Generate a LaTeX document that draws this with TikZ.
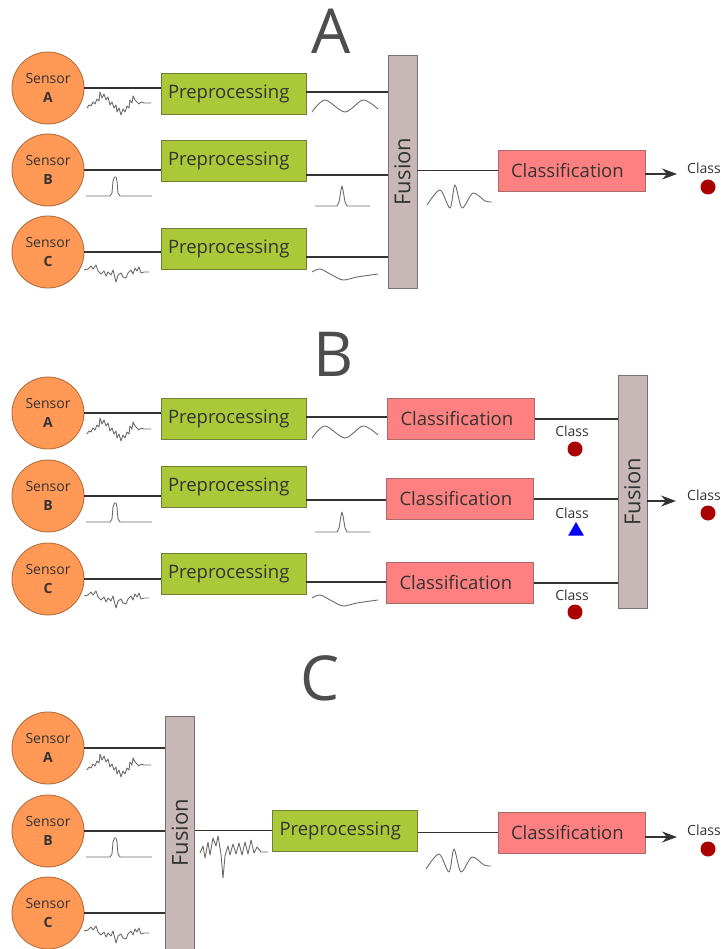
\documentclass[tikz,border=0pt]{standalone}
\usepackage{fontspec}
\setmainfont{Open Sans}
\usetikzlibrary{arrows.meta,positioning,calc,shapes.geometric}

\definecolor{sensorfill}{HTML}{FF9955}
\definecolor{sensorline}{HTML}{B3703F}
\definecolor{prepfill}{HTML}{AAC837}
\definecolor{prepline}{HTML}{6E7F3A}
\definecolor{clsfill}{HTML}{FF8080}
\definecolor{clsline}{HTML}{A86A6A}
\definecolor{fusfill}{HTML}{C8B7B7}
\definecolor{fusline}{HTML}{7D6F6F}
\definecolor{txt}{HTML}{333333}
\definecolor{titlecol}{HTML}{4D4D4D}
\definecolor{linecol}{HTML}{333333}
\definecolor{wavecol}{HTML}{6B6B6B}
\definecolor{dotred}{HTML}{AA0000}

\begin{document}
\begin{tikzpicture}[
    x=1pt, y=-1pt,
    sensor/.style={circle, draw=sensorline, fill=sensorfill, line width=0.9pt,
                minimum size=72pt, inner sep=0pt, align=center, text=txt,
                font=\fontsize{14}{19}\selectfont},
    prep/.style={rectangle, draw=prepline, fill=prepfill, line width=0.9pt,
                minimum height=41pt, text width=131pt, inner xsep=7pt,
                align=left, text=txt, font=\fontsize{18.5}{22}\selectfont},
    classif/.style={prep, draw=clsline, fill=clsfill, text width=121pt,
                inner xsep=13pt},
    fusion/.style={rectangle, draw=fusline, fill=fusfill, line width=0.9pt,
                minimum width=233pt, minimum height=29pt, inner sep=0pt,
                rotate=90, text=txt, font=\fontsize{22}{26}\selectfont},
    link/.style={draw=linecol, line width=1.1pt},
    arr/.style={link, -{Stealth[length=15pt, width=11pt, inset=5pt]}},
    wave/.style={draw=wavecol, line width=0.9pt, line join=round},
    title/.style={text=titlecol, inner sep=0pt, font=\fontsize{62}{62}\selectfont},
    cls/.style={text=txt, inner sep=0pt, font=\fontsize{14}{16}\selectfont},
    dot/.style={circle, fill=dotred, minimum size=15pt, inner sep=0pt},
    tri/.style={regular polygon, regular polygon sides=3, fill=blue,
                minimum size=18pt, inner sep=0pt},
    noisy/.pic={\draw[wave] plot coordinates {(0,5) (2,2) (4,3) (6,-1) (8,1)
        (10,-4) (12,-2) (13,-11) (15,-5) (17,-9) (19,-3) (21,-6) (23,2) (25,-1)
        (27,5) (29,2) (30,9) (32,5) (34,12) (36,6) (38,9) (40,3) (42,5) (43,-3)
        (45,0) (46,-7) (48,-3) (50,-1) (52,1) (54,-1) (57,0) (64,0)};},
    noisyc/.pic={\draw[wave] plot coordinates {(0,-2) (4,-3) (7,-6) (9,-3)
        (12,-7) (14,-1) (17,2) (20,-1) (22,4) (24,0) (27,3) (29,-2) (32,10)
        (34,3) (37,1) (39,5) (42,6) (44,1) (47,-2) (49,2) (51,-4) (53,-1)
        (55,-5) (57,1) (60,0) (65,0)};},
    spike/.pic={\draw[wave] plot coordinates {(0,0) (24,0) (26,-3) (27,-15)
        (28.5,-19) (30,-19) (31,-15) (32,-3) (34,0) (66,0)};},
    sharp/.pic={\draw[wave] plot coordinates {(0,0) (22,0) (24,-4) (26,-16)
        (27,-20) (28,-16) (30,-4) (32,0) (55,0)};},
    sine/.pic={\draw[wave] plot[smooth] coordinates {(0,6) (13,-6) (33,6)
        (51,-6) (66,3)};},
    sinec/.pic={\draw[wave] plot[smooth] coordinates {(0,0) (8,-3) (20,3)
        (31,8) (45,5) (66,2)};},
    wavelet/.pic={\draw[wave] plot[smooth] coordinates {(0,0) (13,-15) (23,3)
        (28,-20) (35,3) (46,-12) (58,-4) (65,-3)};},
    burst/.pic={\draw[wave] plot coordinates {(0,1) (3,-6) (5,6) (8,-10)
        (10,3) (13,-14) (16,-6) (18,-16) (21,2) (23,26) (25,4) (28,-6) (30,3)
        (33,-8) (36,2) (39,-9) (42,3) (45,-10) (48,2) (51,-12) (54,1) (57,-5)
        (61,0) (68,0)};},
]
\useasboundingbox (0,0) rectangle (722,949);

% --- A: fusion of preprocessed signals ---
\node[title] (tA) at (331,31) {A};
\node[sensor] (senA1) at (48,88) {Sensor\\\textbf{A}};
\node[sensor] (senB1) at (48,170) {Sensor\\\textbf{B}};
\node[sensor] (senC1) at (48,252) {Sensor\\\textbf{C}};
\node[prep] (preA1) at (233.5,93.5) {Preprocessing};
\node[prep] (preB1) at (233.5,160.5) {Preprocessing};
\node[prep] (preC1) at (233.5,248.5) {Preprocessing};
\node[fusion] (fus1) at (402.5,171.5) {Fusion};
\node[classif] (cls1) at (571.5,170.5) {Classification};
\coordinate (tip1) at (677,174);
\node[cls, anchor=west] (out1) at (687,168) {Class};
\node[dot] (dot1) at (708,187) {};
\draw[link] (senA1) -- (senA1 -| preA1.west);
\draw[link] (senB1) -- (senB1 -| preB1.west);
\draw[link] (senC1) -- (senC1 -| preC1.west);
\draw[link] ($(senA1 -| preA1.east)+(0,4)$) -- ($(senA1 -| fus1.north)+(0,4)$);
\draw[link] ($(senB1 -| preB1.east)+(0,5)$) -- ($(senB1 -| fus1.north)+(0,5)$);
\draw[link] ($(senC1 -| preC1.east)+(0,5)$) -- ($(senC1 -| fus1.north)+(0,5)$);
\draw[link] (fus1.south |- cls1) -- (cls1.west);
\draw[arr] (cls1.east |- tip1) -- (tip1);
\pic at (87,103) {noisy};
\pic at (86,196) {spike};
\pic at (84,272) {noisyc};
\pic at (312,106) {sine};
\pic at (315,206) {sharp};
\pic at (312,272) {sinec};
\pic at (427,205) {wavelet};

% --- B: fusion of class decisions ---
\node[title] (tB) at (334,354) {B};
\node[sensor] (senA2) at (48,413) {Sensor\\\textbf{A}};
\node[sensor] (senB2) at (48,496) {Sensor\\\textbf{B}};
\node[sensor] (senC2) at (48,579) {Sensor\\\textbf{C}};
\node[prep] (preA2) at (233.5,419) {Preprocessing};
\node[prep] (preB2) at (233.5,486.5) {Preprocessing};
\node[prep] (preC2) at (233.5,573.5) {Preprocessing};
\node[classif] (clsA2) at (461,419) {Classification};
\node[classif] (clsB2) at (460,499) {Classification};
\node[classif] (clsC2) at (460,583) {Classification};
\node[fusion] (fus2) at (632.5,492) {Fusion};
\coordinate (tip2) at (676,501);
\node[cls] (lblA2) at (572,431) {Class};
\node[dot] (mkA2) at (575,449) {};
\node[cls] (lblB2) at (572,513) {Class};
\node[tri] (mkB2) at (576,531) {};
\node[cls] (lblC2) at (572,595) {Class};
\node[dot] (mkC2) at (575,612) {};
\node[cls, anchor=west] (out2) at (687,495) {Class};
\node[dot] (dot2) at (708,513) {};
\draw[link] (senA2) -- (senA2 -| preA2.west);
\draw[link] (senB2) -- (senB2 -| preB2.west);
\draw[link] (senC2) -- (senC2 -| preC2.west);
\draw[link] ($(senA2 -| preA2.east)+(0,4)$) -- ($(senA2 -| clsA2.west)+(0,4)$);
\draw[link] ($(senB2 -| preB2.east)+(0,4)$) -- ($(senB2 -| clsB2.west)+(0,4)$);
\draw[link] ($(senC2 -| preC2.east)+(0,3)$) -- ($(senC2 -| clsC2.west)+(0,3)$);
\draw[link] (clsA2.east) -- (clsA2.east -| fus2.north);
\draw[link] (clsB2.east) -- (clsB2.east -| fus2.north);
\draw[link] (clsC2.east) -- (clsC2.east -| fus2.north);
\draw[arr] (fus2.south |- tip2) -- (tip2);
\pic at (87,429) {noisy};
\pic at (86,522) {spike};
\pic at (84,598) {noisyc};
\pic at (312,432) {sine};
\pic at (315,532) {sharp};
\pic at (312,598) {sinec};

% --- C: fusion of raw signals ---
\node[title] (tC) at (320,678) {C};
\node[sensor] (senA3) at (48,748) {Sensor\\\textbf{A}};
\node[sensor] (senB3) at (48,831) {Sensor\\\textbf{B}};
\node[sensor] (senC3) at (48,913) {Sensor\\\textbf{C}};
\node[fusion] (fus3) at (180,832.5) {Fusion};
\node[prep] (pre3) at (345,830.5) {Preprocessing};
\node[classif] (cls3) at (571.5,832.5) {Classification};
\coordinate (tip3) at (677,837);
\node[cls, anchor=west] (out3) at (687,830) {Class};
\node[dot] (dot3) at (708,849) {};
\draw[link] (senA3) -- (senA3 -| fus3.north);
\draw[link] (senB3) -- (senB3 -| fus3.north);
\draw[link] (senC3) -- (senC3 -| fus3.north);
\draw[link] (fus3.south |- pre3) -- (pre3.west);
\draw[link] (pre3.east |- cls3) -- (cls3.west);
\draw[arr] (cls3.east |- tip3) -- (tip3);
\pic at (87,765) {noisy};
\pic at (86,857) {spike};
\pic at (84,933) {noisyc};
\pic at (200,852) {burst};
\pic at (426,869) {wavelet};

\end{tikzpicture}
\end{document}
